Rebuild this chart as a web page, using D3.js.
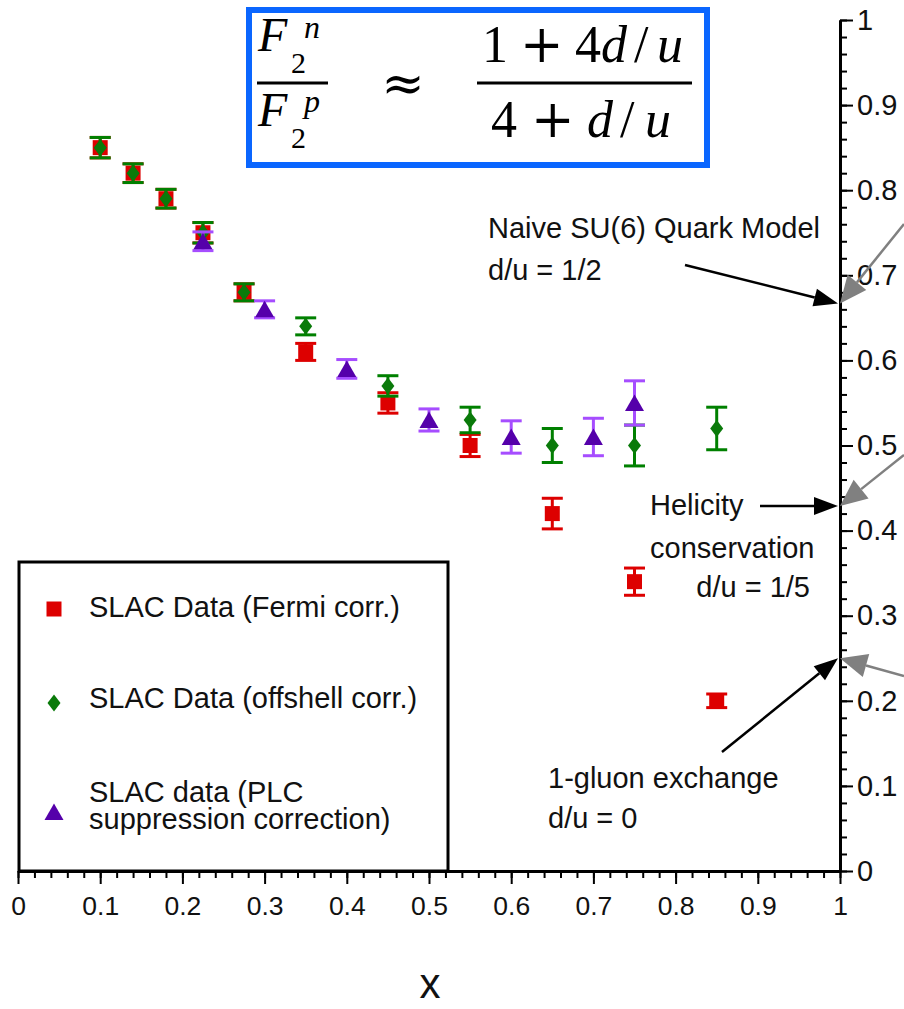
<!DOCTYPE html>
<html>
<head>
<meta charset="utf-8">
<script src="https://cdn.jsdelivr.net/npm/d3@7"></script>
<style>
body { margin:0; background:#fff; }
svg text { font-family: "Liberation Sans", Arial, sans-serif; fill:#111; }
.math text { font-family: "Liberation Serif", "DejaVu Serif", serif; fill:#000; }
</style>
</head>
<body>
<svg width="904" height="1009"></svg>
<script>
var svg = d3.select('svg');

// SLAC Data (Fermi corr.)
var xFermi = [0.1, 0.14, 0.18, 0.225, 0.275, 0.35, 0.45, 0.55, 0.65, 0.75, 0.85];
var yFermi = [0.85, 0.82, 0.79, 0.75, 0.68, 0.61, 0.55, 0.50, 0.42, 0.34, 0.20];
var eFermi = [0.012, 0.011, 0.011, 0.012, 0.01, 0.01, 0.012, 0.013, 0.018, 0.016, 0.008];

// SLAC Data (offshell corr.)
var xOff = [0.1, 0.14, 0.18, 0.225, 0.275, 0.35, 0.45, 0.55, 0.65, 0.75, 0.85];
var yOff = [0.85, 0.82, 0.79, 0.75, 0.68, 0.64, 0.57, 0.53, 0.50, 0.50, 0.52];
var eOff = [0.012, 0.011, 0.011, 0.012, 0.01, 0.01, 0.012, 0.015, 0.02, 0.024, 0.025];

// SLAC data (PLC suppression correction)
var xPlc = [0.225, 0.3, 0.4, 0.5, 0.6, 0.7, 0.75];
var yPlc = [0.74, 0.66, 0.59, 0.53, 0.51, 0.51, 0.55];
var ePlc = [0.011, 0.01, 0.011, 0.013, 0.019, 0.022, 0.026];

var xTicks = [0, 0.1, 0.2, 0.3, 0.4, 0.5, 0.6, 0.7, 0.8, 0.9, 1];
var yTicks = [0, 0.1, 0.2, 0.3, 0.4, 0.5, 0.6, 0.7, 0.8, 0.9, 1];
var minorTicks = d3.range(0, 51).map(function(i){ return i / 50; });

var legendLabels = [["SLAC Data (Fermi corr.)"], ["SLAC Data (offshell corr.)"], ["SLAC data (PLC", "suppression correction)"]];

// arrow targets on the right axis (F2n/F2p for d/u = 1/2, 1/5, 0)
var modelValues = [0.667, 0.429, 0.25];

var ScaleX = d3.scaleLinear().domain([0, 1]).range([18, 840]);
var ScaleY = d3.scaleLinear().domain([0, 1]).range([871, 20]);

var red = '#dd0000', green = '#008000', purple = '#5500aa', violet = '#a64dff';

//legend box, sitting on the x axis
svg.append('rect')
    .attr('x', 19).attr('y', 562)
    .attr('width', 429).attr('height', 309)
    .attr('fill', 'none').attr('stroke', '#000').attr('stroke-width', 3);

//axes: majors with labels, minors without
var xMajor = svg.append('g').attr('transform', 'translate(0,871)')
    .call(d3.axisBottom(ScaleX).tickValues(xTicks).tickSize(13).tickSizeOuter(0).tickPadding(12)
        .tickFormat(function(d){ return d3.format('~g')(d); }));
var xMinor = svg.append('g').attr('transform', 'translate(0,871)')
    .call(d3.axisBottom(ScaleX).tickValues(minorTicks).tickSize(7).tickSizeOuter(0).tickFormat(''));
var yMajor = svg.append('g').attr('transform', 'translate(840,0)')
    .call(d3.axisRight(ScaleY).tickValues(yTicks).tickSize(13).tickSizeOuter(0).tickPadding(4)
        .tickFormat(function(d){ return d3.format('~g')(d); }));
var yMinor = svg.append('g').attr('transform', 'translate(840,0)')
    .call(d3.axisRight(ScaleY).tickValues(minorTicks).tickSize(7).tickSizeOuter(0).tickFormat(''));

svg.selectAll('.domain').attr('stroke', '#000').attr('stroke-width', 3);
svg.selectAll('.tick line').attr('stroke', '#000').attr('stroke-width', 2);
xMajor.selectAll('text').style('font-size', '26.5px').attr('fill', '#111');
yMajor.selectAll('text').style('font-size', '29px').attr('fill', '#111');

svg.append('text')
    .text('x')
    .attr('x', 430).attr('y', 998)
    .style('font-size', '42px')
    .style('text-anchor', 'middle');

//marker shapes
var squarePath = 'M-7.5,-7.5H7.5V7.5H-7.5Z';
var diamondPath = 'M0,-8.5L6.5,0L0,8.5L-6.5,0Z';
var trianglePath = 'M0,-8.5L9.5,8L-9.5,8Z';

function drawSeries(xs, ys, es, cls, shape, fill, barColor){
    var pts = xs.map(function(x, i){ return {x: x, y: ys[i], e: es[i]}; });
    var g = svg.append('g').attr('class', cls);
    var bars = g.selectAll('.bar').data(pts).enter().append('g').attr('class', 'bar')
        .attr('stroke', barColor).attr('stroke-width', 3);
    bars.append('line')
        .attr('x1', function(d){ return ScaleX(d.x); })
        .attr('x2', function(d){ return ScaleX(d.x); })
        .attr('y1', function(d){ return ScaleY(d.y + d.e); })
        .attr('y2', function(d){ return ScaleY(d.y - d.e); });
    [1, -1].forEach(function(s){
        bars.append('line')
            .attr('x1', function(d){ return ScaleX(d.x) - 10.5; })
            .attr('x2', function(d){ return ScaleX(d.x) + 10.5; })
            .attr('y1', function(d){ return ScaleY(d.y + s * d.e); })
            .attr('y2', function(d){ return ScaleY(d.y + s * d.e); });
    });
    g.selectAll('.pt').data(pts).enter().append('path').attr('class', 'pt')
        .attr('d', shape)
        .attr('fill', fill)
        .attr('transform', function(d){ return 'translate(' + ScaleX(d.x) + ',' + ScaleY(d.y) + ')'; });
}

drawSeries(xFermi, yFermi, eFermi, 'fermi', squarePath, red, red);
drawSeries(xOff, yOff, eOff, 'offshell', diamondPath, '#0a7a0a', green);
drawSeries(xPlc, yPlc, ePlc, 'plc', trianglePath, purple, violet);

//legend entries
var legendShapes = [squarePath, diamondPath, trianglePath];
var legendFills = [red, '#0a7a0a', purple];
var legendY = [609, 703, 812];
var legendBase = [617, 708, 802];
legendLabels.forEach(function(lines, i){
    svg.append('path').attr('d', legendShapes[i]).attr('fill', legendFills[i])
        .attr('transform', 'translate(54,' + legendY[i] + ')');
    lines.forEach(function(t, j){
        svg.append('text').text(t)
            .attr('x', 89).attr('y', legendBase[i] + j * 27)
            .style('font-size', '29px');
    });
});

//annotation arrows
function arrow(x1, y1, x2, y2, color, len, half){
    var a = Math.atan2(y2 - y1, x2 - x1);
    var bx = x2 - len * Math.cos(a), by = y2 - len * Math.sin(a);
    svg.append('line').attr('x1', x1).attr('y1', y1).attr('x2', bx).attr('y2', by)
        .attr('stroke', color).attr('stroke-width', 2.5);
    var px = -Math.sin(a) * half, py = Math.cos(a) * half;
    svg.append('path')
        .attr('d', 'M' + x2 + ',' + y2 + 'L' + (bx + px) + ',' + (by + py) + 'L' + (bx - px) + ',' + (by - py) + 'Z')
        .attr('fill', color);
}

var tipX = ScaleX(1);
arrow(685, 265, tipX - 2, ScaleY(modelValues[0]), '#000', 24, 9);
arrow(904, 224, tipX, ScaleY(modelValues[0]), '#808080', 27, 12);
arrow(760, ScaleY(modelValues[1]), tipX - 2, ScaleY(modelValues[1]), '#000', 24, 9);
arrow(904, 455, tipX, ScaleY(modelValues[1]), '#808080', 27, 12);
arrow(722, 752, tipX - 2, ScaleY(modelValues[2]), '#000', 24, 9);
arrow(904, 676, tipX, ScaleY(modelValues[2]), '#808080', 27, 12);

function label(t, x, y, anchor){
    svg.append('text').text(t).attr('x', x).attr('y', y)
        .style('font-size', '29px').style('text-anchor', anchor || 'start');
}
label('Naive SU(6) Quark Model', 488, 238);
label('d/u = 1/2', 488, 280);
label('Helicity', 650, 515);
label('conservation', 650, 558);
label('d/u = 1/5', 810, 597, 'end');
label('1-gluon exchange', 548, 788);
label('d/u = 0', 548, 828);

//formula box
var math = svg.append('g').attr('class', 'math');
math.append('rect')
    .attr('x', 249).attr('y', 10).attr('width', 458).attr('height', 155)
    .attr('fill', '#fff').attr('stroke', '#0a66ff').attr('stroke-width', 6);
math.append('line').attr('x1', 257).attr('x2', 328).attr('y1', 83).attr('y2', 83)
    .attr('stroke', '#000').attr('stroke-width', 3);
math.append('line').attr('x1', 477).attr('x2', 692).attr('y1', 83).attr('y2', 83)
    .attr('stroke', '#000').attr('stroke-width', 3);

function mtext(t, x, y, size, italic, font){
    var el = math.append('text').text(t).attr('x', x).attr('y', y)
        .style('font-size', size + 'px')
        .style('font-style', italic ? 'italic' : 'normal');
    if (font) el.style('font-family', font);
    return el;
}
// left fraction
mtext('F', 258, 51, 48, true);
mtext('n', 304, 38, 32, true);
mtext('2', 291, 73, 30, false);
mtext('F', 258, 126, 48, true);
mtext('p', 304, 112, 32, true);
mtext('2', 291, 148, 30, false);
mtext('\u2248', 403, 101, 52, false, '"DejaVu Serif", serif').style('text-anchor', 'middle');

// right fraction, glyph by glyph
var plusFont = '"DejaVu Serif", serif';
mtext('1', 482, 62, 52, false);
mtext('+', 520, 62, 52, false, plusFont);
mtext('4', 575, 62, 52, false);
mtext('d', 601, 62, 52, true);
mtext('/', 634, 62, 52, false);
mtext('u', 657, 62, 52, true);

mtext('4', 491, 137, 52, false);
mtext('+', 531, 137, 52, false, plusFont);
mtext('d', 587, 137, 52, true);
mtext('/', 620, 137, 52, false);
mtext('u', 645, 137, 52, true);
</script>
</body>
</html>
